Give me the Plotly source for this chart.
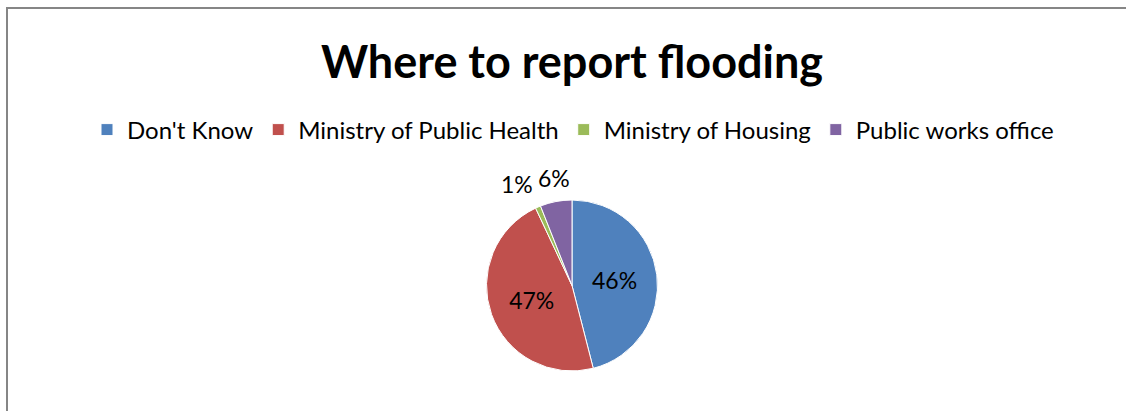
import math
import plotly.graph_objects as go

# Survey responses: where residents would report flooding
categories = ["Don't Know", "Ministry of Public Health", "Ministry of Housing", "Public works office"]
shares = [46, 47, 1, 6]
slice_colors = ["#4F81BD", "#C0504D", "#9BBB59", "#8064A2"]
outside_label = [False, False, True, True]

W, H = 1126, 411
FONT = "Lato, 'Open Sans', sans-serif"

# pie placement (pixels in the figure)
CX, CY, R = 572, 285.5, 85.5

total = sum(shares)
fig = go.Figure(
    go.Pie(
        labels=categories,
        values=shares,
        sort=False,
        direction="clockwise",
        rotation=0,
        marker=dict(colors=slice_colors, line=dict(color="white", width=1)),
        texttemplate="%{percent:.0%}",
        textposition=["none" if o else "inside" for o in outside_label],
        textfont=dict(family=FONT, size=23, color="black"),
        insidetextorientation="horizontal",
        hoverinfo="label+percent",
        domain=dict(x=[(CX - R) / W, (CX + R) / W], y=[1 - (CY + R) / H, 1 - (CY - R) / H]),
    )
)

# small slices get their percentage just outside the rim, anchored on the side facing the pie
annotations = []
cum = 0.0
for name, v, o in zip(categories, shares, outside_label):
    mid = (cum + v / 2) / total
    cum += v
    if not o:
        continue
    theta = 2 * math.pi * mid
    s, c = math.sin(theta), math.cos(theta)
    d = R + 8
    px, py = CX + d * s, CY - d * c
    xa = "center" if abs(s) < 0.25 else ("left" if s > 0 else "right")
    ya = "middle" if abs(c) < 0.25 else ("bottom" if c > 0 else "top")
    annotations.append(
        dict(
            text=f"{round(100 * v / total)}%",
            x=px / W,
            y=1 - py / H,
            xref="paper",
            yref="paper",
            xanchor=xa,
            yanchor=ya,
            showarrow=False,
            font=dict(family=FONT, size=23, color="black"),
        )
    )

fig.update_layout(
    width=W,
    height=H,
    margin=dict(l=0, r=0, t=0, b=0),
    paper_bgcolor="white",
    plot_bgcolor="white",
    font=dict(family=FONT, color="black"),
    title=dict(
        text="<b>Where to report flooding</b>",
        x=572 / W,
        xanchor="center",
        y=1 - 62 / H,
        yanchor="middle",
        font=dict(family=FONT, size=45, color="black"),
    ),
    legend=dict(
        orientation="h",
        x=573 / W,
        xanchor="center",
        y=1 - 130 / H,
        yanchor="middle",
        font=dict(family=FONT, size=24, color="black"),
    ),
    annotations=annotations,
    shapes=[
        dict(
            type="rect",
            xref="paper",
            yref="paper",
            x0=7 / W,
            x1=1.05,
            y0=-0.1,
            y1=1 - 8 / H,
            line=dict(color="#868686", width=2),
            fillcolor="rgba(0,0,0,0)",
            layer="below",
        )
    ],
)

fig.write_html("out.html")
